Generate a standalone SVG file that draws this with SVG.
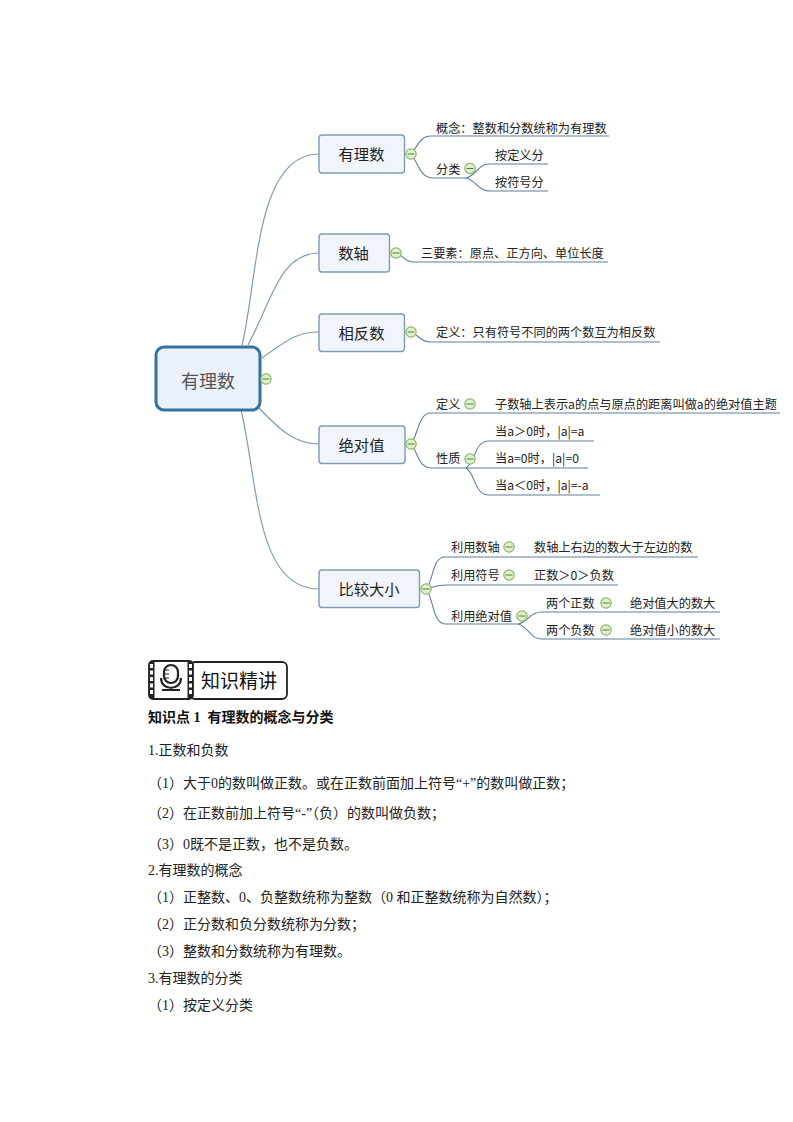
<svg xmlns="http://www.w3.org/2000/svg" width="793" height="1122" viewBox="0 0 793 1122">
<defs>
<style>
text{font-family:"Liberation Serif","Noto Sans CJK SC",serif;fill:#111}
.n{font-family:"Noto Sans CJK SC",sans-serif;font-size:15.3px;text-anchor:middle;dominant-baseline:central;fill:#222}
.l{font-family:"Noto Sans CJK SC",sans-serif;font-size:12.2px;fill:#222}
.b{font-size:14px;fill:#222}
.box{fill:#f1f5fb;stroke:#7f9ab5;stroke-width:1.4}
.c{fill:none;stroke:#7f9db5;stroke-width:1.2}
.t{fill:none;stroke:#5f7f9c;stroke-width:1.1}
.dot{fill:#e2efcf;stroke:#8ab866;stroke-width:1.2}
.dash{stroke:#4f7f3c;stroke-width:1}
</style>
<g id="tg"><circle class="dot" r="5.200"/><path class="dash" d="M-3.500 0H3.500"/></g>
</defs>
<rect width="793" height="1122" fill="#fff"/>
<g id="connectors">
<path class="c" d="M242 345C258 280 255 154 319 154"/>
<path class="c" d="M248 345C272 300 280 253 319 253"/>
<path class="c" d="M262 358C285 342 295 332 319 332"/>
<path class="c" d="M259 408C280 430 295 444 319 444"/>
<path class="c" d="M241 410C258 480 255 589 319 589"/>
<path class="t" d="M411 154C418 146 420 136 431 136H609"/>
<path class="t" d="M411 154C418 162 420 178 433 178H466"/>
<path class="t" d="M466 178C476 176 478 164 489 164H548"/>
<path class="t" d="M466 178C476 180 478 191 490 191H548"/>
<path class="t" d="M396 253C403 255 404 262 414 262H608"/>
<path class="t" d="M411 332C418 334 420 342 430 342H660"/>
<path class="t" d="M411 444C418 436 418 413 431 413H780"/>
<path class="t" d="M411 444C418 452 418 468 432 468H588"/>
<path class="t" d="M466 468C476 462 474 441 489 441H594"/>
<path class="t" d="M466 468C476 474 474 495 489 495H600"/>
<path class="t" d="M426 589C434 580 432 557 445 557H698"/>
<path class="t" d="M426 589C432 587 436 585 447 585H618"/>
<path class="t" d="M426 589C434 598 432 624 446 624H518"/>
<path class="t" d="M518 624C528 622 530 612 541 612H720"/>
<path class="t" d="M518 624C528 626 530 639 541 639H720"/>
</g>
<g id="root"><rect x="156" y="347" width="104" height="63" rx="8" fill="#eaf1fa" stroke="#33719f" stroke-width="3"/><text class="n" x="208" y="379.500" style="font-size:18px;fill:#555">有理数</text><use href="#tg" x="266" y="379"/></g>
<g id="n1"><rect class="box" x="319" y="135" width="85.500" height="38" rx="3"/><text class="n" x="361.500" y="153">有理数</text><use href="#tg" x="411" y="154"/></g>
<g id="n2"><rect class="box" x="319" y="234" width="70.500" height="38" rx="3"/><text class="n" x="353.500" y="252">数轴</text><use href="#tg" x="396" y="253"/></g>
<g id="n3"><rect class="box" x="319" y="314" width="85.500" height="37.500" rx="3"/><text class="n" x="361.500" y="331.500">相反数</text><use href="#tg" x="411" y="332"/></g>
<g id="n4"><rect class="box" x="319" y="426" width="86" height="37.500" rx="3"/><text class="n" x="361.500" y="443.500">绝对值</text><use href="#tg" x="411" y="444"/></g>
<g id="n5"><rect class="box" x="319" y="570" width="100.500" height="37.500" rx="3"/><text class="n" x="369" y="588">比较大小</text><use href="#tg" x="426" y="589"/></g>
<g id="n1-a"><text class="l" x="436" y="132.500">概念：整数和分数统称为有理数</text></g>
<g id="n1-b"><text class="l" x="436" y="173.500">分类</text><use href="#tg" x="470" y="168.500"/></g>
<g id="n1-b1"><text class="l" x="495" y="159.500">按定义分</text></g>
<g id="n1-b2"><text class="l" x="495" y="186.500">按符号分</text></g>
<g id="n2-a"><text class="l" x="421" y="257.500">三要素：原点、正方向、单位长度</text></g>
<g id="n3-a"><text class="l" x="436" y="337">定义：只有符号不同的两个数互为相反数</text></g>
<g id="n4-a"><text class="l" x="436" y="408.500">定义</text><use href="#tg" x="470" y="404"/></g>
<g id="n4-a1"><text class="l" x="495" y="408.500">子数轴上表示a的点与原点的距离叫做a的绝对值主题</text></g>
<g id="n4-b"><text class="l" x="436" y="463">性质</text><use href="#tg" x="470" y="459"/></g>
<g id="n4-b1"><text class="l" x="495" y="436">当a＞0时，|a|=a</text></g>
<g id="n4-b2"><text class="l" x="495" y="463">当a=0时，|a|=0</text></g>
<g id="n4-b3"><text class="l" x="495" y="490">当a＜0时，|a|=-a</text></g>
<g id="n5-a"><text class="l" x="451" y="552">利用数轴</text><use href="#tg" x="509" y="547"/></g>
<g id="n5-a1"><text class="l" x="534" y="552">数轴上右边的数大于左边的数</text></g>
<g id="n5-b"><text class="l" x="451" y="579.500">利用符号</text><use href="#tg" x="509" y="575"/></g>
<g id="n5-b1"><text class="l" x="534" y="579.500">正数＞0＞负数</text></g>
<g id="n5-c"><text class="l" x="451" y="620.500">利用绝对值</text><use href="#tg" x="522" y="616"/></g>
<g id="n5-c1"><text class="l" x="546" y="607.500">两个正数</text><use href="#tg" x="606" y="603"/></g>
<g id="n5-c2"><text class="l" x="546" y="634.500">两个负数</text><use href="#tg" x="606" y="630"/></g>
<g id="n5-c1a"><text class="l" x="630" y="607.500">绝对值大的数大</text></g>
<g id="n5-c2a"><text class="l" x="630" y="634.500">绝对值小的数大</text></g>
<g id="badge">
<rect x="190" y="662" width="97" height="37" rx="5" fill="#fff" stroke="#222" stroke-width="1.800"/>
<rect x="149" y="661" width="44" height="38" rx="4" fill="#fff" stroke="#222" stroke-width="1.800"/>
<rect x="149" y="662" width="5.500" height="36" fill="#222"/><rect x="187.500" y="662" width="5.500" height="36" fill="#222"/>
<path d="M150 664h3v4h-3zM150 670.500h3v4h-3zM150 677h3v4h-3zM150 683.500h3v4h-3zM150 690h3v4h-3zM189 664h3v4h-3zM189 670.500h3v4h-3zM189 677h3v4h-3zM189 683.500h3v4h-3zM189 690h3v4h-3z" fill="#fff"/>
<rect x="164" y="665" width="14" height="18" rx="7" fill="#fff" stroke="#222" stroke-width="2.200"/>
<path d="M164 670h5M164 674h5M164 678h5" stroke="#222" stroke-width="1.200"/>
<path d="M161 678C161 691 181 691 181 678M171 687V689M162 690H180" fill="none" stroke="#222" stroke-width="2.200"/>
<text x="201" y="688" style="font-family:'Noto Sans CJK SC',sans-serif;font-size:19px" fill="#222">知识精讲</text>
</g>
<text x="148" y="722" style="font-size:14px;font-weight:bold" xml:space="preserve">知识点 1  有理数的概念与分类</text>
<text class="b" x="148" y="755">1.正数和负数</text>
<text class="b" x="148" y="788">（1）大于0的数叫做正数。或在正数前面加上符号“+”的数叫做正数；</text>
<text class="b" x="148" y="818">（2）在正数前加上符号“-”（负）的数叫做负数；</text>
<text class="b" x="148" y="849">（3）0既不是正数，也不是负数。</text>
<text class="b" x="148" y="875">2.有理数的概念</text>
<text class="b" x="148" y="902" xml:space="preserve">（1）正整数、0、负整数统称为整数（0 和正整数统称为自然数）；</text>
<text class="b" x="148" y="929">（2）正分数和负分数统称为分数；</text>
<text class="b" x="148" y="956">（3）整数和分数统称为有理数。</text>
<text class="b" x="148" y="983">3.有理数的分类</text>
<text class="b" x="148" y="1010">（1）按定义分类</text>
</svg>
